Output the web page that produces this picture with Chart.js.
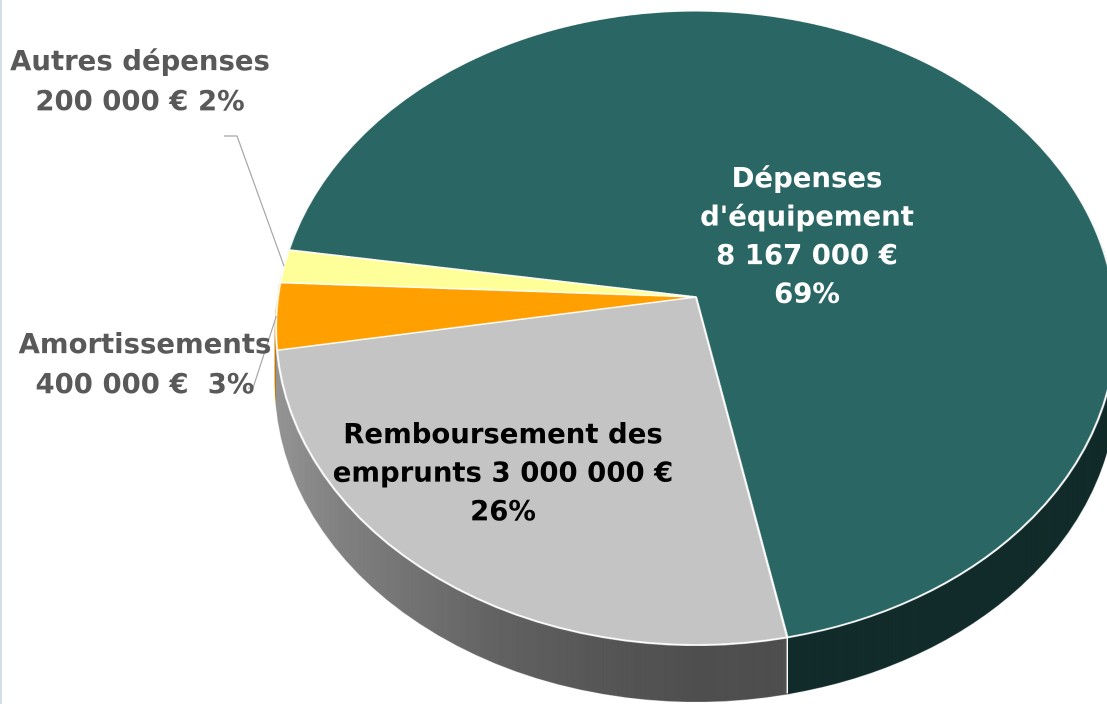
<!DOCTYPE html>
<html lang="fr">
<head>
<meta charset="utf-8">
<script src="https://cdn.jsdelivr.net/npm/chart.js@4.4.1/dist/chart.umd.min.js"></script>
<style>
  html, body { margin: 0; padding: 0; background: #fff; overflow: hidden; }
  canvas { display: block; }
</style>
</head>
<body>
<canvas id="budget" width="1107" height="704"></canvas>
<script>
// données
const categories = ["Dépenses d'équipement", 'Remboursement des emprunts', 'Amortissements', 'Autres dépenses'];
const amounts = [8167000, 3000000, 400000, 200000];
const percents = ['69%', '26%', '3%', '2%'];
const sliceColors = ['#2a6663', '#c4c4c4', '#ffa000', '#ffff99'];

function fmt(n) {
  return String(n).replace(/\B(?=(\d{3})+(?!\d))/g, ' ');
}

// texte des étiquettes, ligne par ligne
const labelLines = [
  ['Dépenses', "d'équipement", fmt(amounts[0]) + ' €', percents[0]],
  ['Remboursement des', 'emprunts ' + fmt(amounts[1]) + ' €', percents[1]],
  ['Amortissements', fmt(amounts[2]) + ' €  ' + percents[2]],
  ['Autres dépenses', fmt(amounts[3]) + ' € ' + percents[3]]
];
const labelPos = [
  { x: 807, y: 187, lh: 38.5, color: '#ffffff' },
  { x: 503, y: 443, lh: 38.5, color: '#000000' },
  { x: 145, y: 353, lh: 40, color: '#595959' },
  { x: 140, y: 70, lh: 40, color: '#595959' }
];
// lignes de rappel (début du trait, coude) pour les petites parts
const leaders = { 2: [[248, 388], [253, 388]], 3: [[224, 136], [237, 136]] };

// vue en perspective du camembert
const view = { apexX: 696, apexY: 297, top: 11, bottom: 645, rx: 420, depth: 56 };
const persp = (function () {
  const b = view.apexY;
  const c = (2 * b - view.top - view.bottom) / (view.top - view.bottom);
  const a = view.top * (c + 1) - b;
  return { a: a, b: b, c: c, k: view.rx * Math.sqrt(1 - c * c) };
})();
function project(u, v) {
  const w = persp.c * v + 1;
  return { x: view.apexX + persp.k * u / w, y: (persp.a * v + persp.b) / w };
}
function depthOf(Y) {
  return (persp.b - Y) / (persp.c * Y - persp.a);
}
// ombrage des flancs (x, part de luminosité conservée)
const wallShade = [[0, 0.76], [276, 0.76], [340, 0.66], [420, 0.58], [500, 0.5], [600, 0.44], [700, 0.4], [782, 0.4], [790, 0.43], [1107, 0.43]];

function layer(w, h) {
  const c = document.createElement('canvas');
  c.width = w; c.height = h;
  const ctx = c.getContext('2d');
  ctx.imageSmoothingQuality = 'high';
  return { canvas: c, ctx: ctx };
}

// étire le disque plat ligne par ligne pour le mettre en perspective
function warp(src, sx0, sy0, R, pr) {
  const W = src.width, H = src.height;
  const out = layer(W, H);
  const pad = 3, half = R + pad;
  for (let i = Math.floor((view.top - pad) * pr); i < Math.ceil((view.bottom + pad) * pr); i++) {
    const v0 = depthOf(i / pr), v1 = depthOf((i + 1) / pr);
    const s = persp.k / (persp.c * (v0 + v1) / 2 + 1) / R;
    let ys0 = (sy0 - v0 * R) * pr;
    const ys1 = (sy0 - v1 * R) * pr;
    if (ys1 <= 0 || ys0 >= H) continue;
    if (ys0 < 0) ys0 = 0;
    out.ctx.drawImage(src, (sx0 - half) * pr, ys0, 2 * half * pr, ys1 - ys0,
      (view.apexX - s * half) * pr, i, 2 * s * half * pr, 1);
  }
  return out;
}

const pie3d = {
  id: 'pie3d',
  afterDatasetsDraw(chart) {
    const arcs = chart.getDatasetMeta(0).data;
    if (!arcs.length) return;
    const pr = chart.currentDevicePixelRatio;
    const cv = chart.canvas, W = cv.width, H = cv.height;
    const sx0 = arcs[0].x, sy0 = arcs[0].y, R = arcs[0].outerRadius;

    const flat = layer(W, H);
    flat.ctx.drawImage(cv, 0, 0);
    const top = warp(flat.canvas, sx0, sy0, R, pr);

    // même disque sans liseré blanc, pour les flancs
    const plain = layer(W, H);
    plain.ctx.setTransform(pr, 0, 0, pr, 0, 0);
    arcs.forEach(function (arc) {
      const o = Object.assign({}, arc.options, { borderColor: arc.options.backgroundColor });
      const tmp = Object.create(arc);
      tmp.options = o;
      arc.draw.call(tmp, plain.ctx);
    });
    const wall = warp(plain.canvas, sx0, sy0, R, pr);
    wall.ctx.globalCompositeOperation = 'source-atop';
    const g = wall.ctx.createLinearGradient(0, 0, W, 0);
    wallShade.forEach(function (s) {
      g.addColorStop(Math.min(1, s[0] * pr / W), 'rgba(0,0,0,' + (1 - s[1]).toFixed(3) + ')');
    });
    wall.ctx.fillStyle = g;
    wall.ctx.fillRect(0, 0, W, H);

    const ctx = chart.ctx;
    ctx.save();
    ctx.setTransform(1, 0, 0, 1, 0, 0);
    ctx.clearRect(0, 0, W, H);
    for (let d = Math.round(view.depth * pr); d > 0; d -= 2) ctx.drawImage(wall.canvas, 0, d);
    ctx.restore();

    // arêtes verticales des parts sur le devant
    ctx.save();
    ctx.strokeStyle = '#ffffff';
    ctx.lineWidth = 1.4;
    arcs.forEach(function (arc) {
      const u = Math.cos(arc.endAngle), v = -Math.sin(arc.endAngle);
      if (v > -0.3) return;
      const p = project(u, v);
      ctx.beginPath();
      ctx.moveTo(p.x, p.y);
      ctx.lineTo(p.x, p.y + view.depth);
      ctx.stroke();
    });
    ctx.restore();

    ctx.save();
    ctx.setTransform(1, 0, 0, 1, 0, 0);
    ctx.drawImage(top.canvas, 0, 0);
    ctx.restore();
  },
  afterDraw(chart) {
    const ctx = chart.ctx;
    const arcs = chart.getDatasetMeta(0).data;
    ctx.save();

    // traits de rappel
    ctx.strokeStyle = '#a6a6a6';
    ctx.lineWidth = 1.2;
    Object.keys(leaders).forEach(function (k) {
      const arc = arcs[k];
      const mid = (arc.startAngle + arc.endAngle) / 2;
      const p = project(Math.cos(mid), -Math.sin(mid));
      const pts = leaders[k];
      ctx.beginPath();
      ctx.moveTo(pts[0][0], pts[0][1]);
      ctx.lineTo(pts[1][0], pts[1][1]);
      ctx.lineTo(p.x, p.y);
      ctx.stroke();
    });

    // étiquettes
    ctx.font = 'bold 27.5px "DejaVu Sans"';
    ctx.textAlign = 'center';
    ctx.textBaseline = 'alphabetic';
    labelLines.forEach(function (lines, i) {
      const pos = labelPos[i];
      ctx.fillStyle = pos.color;
      lines.forEach(function (t, j) { ctx.fillText(t, pos.x, pos.y + j * pos.lh); });
    });

    // liseré à gauche
    ctx.fillStyle = '#d3dfe8';
    ctx.fillRect(0, 0, 2, chart.height);
    ctx.restore();
  }
};

new Chart(document.getElementById('budget'), {
  type: 'pie',
  data: {
    labels: categories,
    datasets: [{
      data: amounts,
      backgroundColor: sliceColors,
      borderColor: '#ffffff',
      borderWidth: 1.6
    }]
  },
  options: {
    responsive: false,
    devicePixelRatio: 2,
    animation: false,
    events: [],
    rotation: -81.25,
    layout: { padding: 0 },
    plugins: {
      legend: { display: false },
      tooltip: { enabled: false }
    }
  },
  plugins: [pie3d]
});
</script>
</body>
</html>
